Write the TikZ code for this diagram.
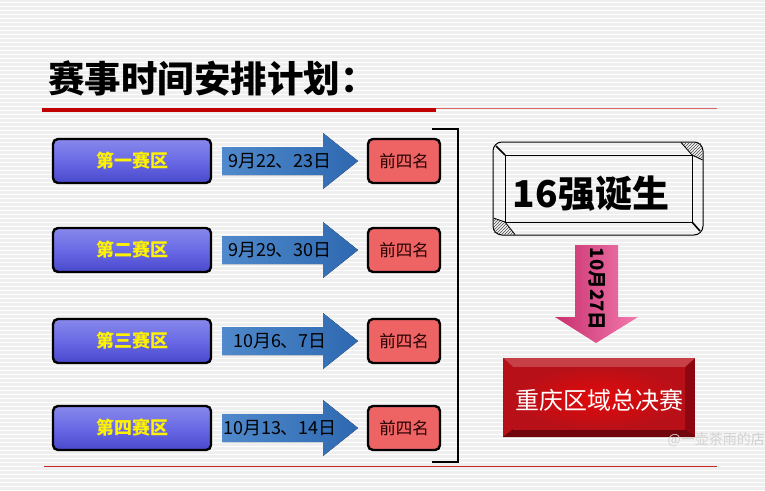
\documentclass[tikz,border=0pt]{standalone}
\usepackage{fontspec}
\newfontfamily\cjk{Noto Sans CJK SC}
\usetikzlibrary{patterns,shadings}
\definecolor{bgc}{HTML}{EFEFEF}
\definecolor{titlered}{HTML}{C00000}
\definecolor{boxblue}{HTML}{6A6AE6}
\definecolor{boxblueD}{HTML}{4848CC}
\definecolor{arrblue}{HTML}{3C7DC6}
\definecolor{arrblueD}{HTML}{2E68B0}
\definecolor{topred}{HTML}{EE6464}
\definecolor{pinkL}{HTML}{F27AAE}
\definecolor{pinkD}{HTML}{C8306E}
\definecolor{finalD}{HTML}{8E0610}
\definecolor{finalM}{HTML}{B81018}
\definecolor{finalL}{HTML}{E20A0A}
\tikzset{
  zonebox/.style={draw=black, line width=2.4pt, rounded corners=5pt,
    top color=boxblue!80!white, bottom color=boxblueD, middle color=boxblue,
    minimum width=158pt, minimum height=44pt,
    font=\cjk\bfseries\fontsize{18}{18}\selectfont, text=yellow},
  topbox/.style={draw=black, line width=2.4pt, rounded corners=5pt, fill=topred,
    minimum width=72pt, minimum height=44pt,
    font=\cjk\fontsize{16.5}{16.5}\selectfont, text=black!85!red},
  datearrow/.style={left color=arrblue!90!white, right color=arrblueD, draw=none},
  datetxt/.style={font=\cjk\fontsize{18}{18}\selectfont, text=black},
}
\begin{document}
\begin{tikzpicture}[x=1pt,y=-1pt]
\useasboundingbox (0,0) rectangle (765,490);
\fill[bgc] (0,0) rectangle (765,490);
\foreach \yy in {2,6,...,490} \draw[white, line width=1pt] (0,\yy) -- (765,\yy);

% title
\node[anchor=west, font=\cjk\bfseries\fontsize{36.5}{36.5}\selectfont, inner sep=0pt] (title) at (48,78) {赛事时间安排计划：};
\coordinate (tl1) at (42,110);
\coordinate (tl2) at (436,110);
\coordinate (tl3) at (717,108);
\draw[titlered, line width=4pt] (tl1) -- (tl2);
\draw[titlered!60!white, line width=1pt] (tl2 |- tl3) -- (tl3);
\coordinate (bl1) at (44,466);
\coordinate (bl2) at (717,466);
\draw[titlered!85!white, line width=0.9pt] (bl1) -- (bl2);

% rows
\foreach \i/\yc/\zone/\date in {1/161/第一赛区/9月22、23日, 2/250/第二赛区/9月29、30日, 3/341/第三赛区/10月6、7日, 4/428/第四赛区/10月13、14日}{
  \node[zonebox] (z\i) at (132,\yc) {\zone};
  \fill[datearrow] (222,\yc-14) -- (323,\yc-14) -- (323,\yc-28) -- (358,\yc) -- (323,\yc+28) -- (323,\yc+14) -- (222,\yc+14) -- cycle;
  \node[datetxt] (d\i) at (280,\yc) {\date};
  \node[topbox] (t\i) at (404,\yc) {前四名};
}

% bracket
\coordinate (br1) at (432,129);
\coordinate (br2) at (458,129);
\coordinate (br3) at (458,462);
\coordinate (br4) at (432,462);
\draw[black, line width=2.6pt] (br1) -- (br2) -- (br3) -- (br4);

% 16 box
\draw[black, line width=1pt, rounded corners=9pt] (493,142) rectangle (703,235);
\draw[black, line width=0.9pt] (505,155) rectangle (692,222);
\fill[pattern=north east lines, pattern color=black!70] (681,142.5) -- (694,142.5) .. controls (702.5,142.5) .. (702.5,151) -- (702.5,160) -- (692,155) -- cycle;
\draw[black, line width=0.8pt] (681,142.5) -- (692,155) -- (702.5,160);
\fill[pattern=north east lines, pattern color=black!70] (493.5,218) -- (493.5,226) .. controls (493.5,234.5) .. (502,234.5) -- (515,234.5) -- (505,222) -- cycle;
\draw[black, line width=0.8pt] (493.5,218) -- (505,222) -- (515,234.5);
\draw[black, line width=1.6pt] (496,146) -- (505,155);
\draw[black, line width=1.6pt] (700,231) -- (692,222);
\node[font=\cjk\bfseries\fontsize{37}{37}\selectfont, inner sep=0pt] (s16) at (591,194) {16强诞生};

% pink arrow
\shade[left color=pinkD, right color=pinkL] (575,245) -- (618,245) -- (618,317) -- (638,317) -- (596,343) -- (555,317) -- (575,317) -- cycle;
\node[rotate=-90, font=\cjk\bfseries\fontsize{18.5}{18.5}\selectfont, inner sep=0pt] (d5) at (597,289) {10月27日};

% final box
\fill[finalD] (503,358) rectangle (695,437);
\fill[finalM!80!white] (503,358) -- (695,358) -- (685,367) -- (513,367) -- cycle;
\fill[finalM] (503,358) -- (513,367) -- (513,429) -- (503,437) -- cycle;
\fill[finalD!80!black] (503,437) -- (513,429) -- (685,429) -- (695,437) -- cycle;
\shade[inner color=finalL, outer color=finalM] (513,367) rectangle (685,429);
\node[font=\cjk\fontsize{24}{24}\selectfont, text=white, inner sep=0pt] (fin) at (599,400) {重庆区域总决赛};

% watermark
\node[anchor=east, font=\cjk\fontsize{14}{14}\selectfont, text=black!18, inner sep=0pt] (wm) at (765,440) {@一壶茶雨的店};
\end{tikzpicture}
\end{document}
